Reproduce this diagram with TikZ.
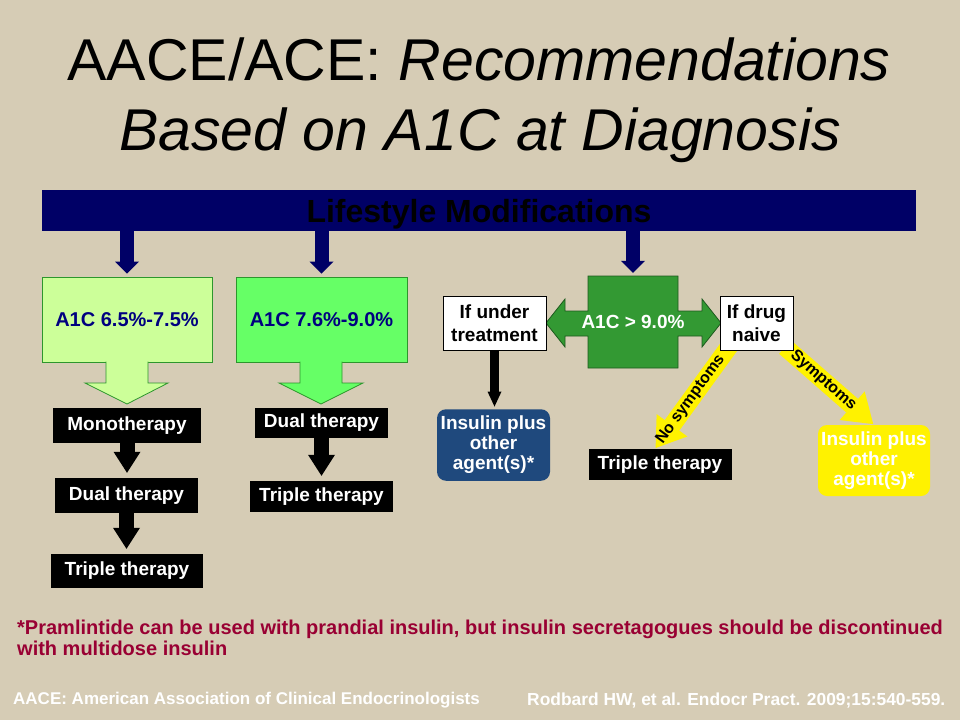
\documentclass[tikz,border=0pt]{standalone}
\usepackage{fontspec}
\setmainfont{Liberation Sans}
\usepackage{tikz}
\usetikzlibrary{calc}
\usetikzlibrary{arrows.meta}
\usetikzlibrary{backgrounds}
\definecolor{parchment}{RGB}{214, 204, 181}
\definecolor{navybar}{RGB}{0, 0, 102}
\definecolor{navytext}{RGB}{0, 0, 128}
\definecolor{palegreen}{RGB}{204, 255, 153}
\definecolor{brightgreen}{RGB}{102, 255, 102}
\definecolor{boxgreen}{RGB}{51, 153, 51}
\definecolor{edgegreen}{RGB}{45, 150, 45}
\definecolor{darkedge}{RGB}{30, 90, 30}
\definecolor{insulinblue}{RGB}{31, 73, 125}
\definecolor{crimson}{RGB}{153, 0, 51}
\newcommand{\sized}[2]{\fontsize{#1}{#2}\selectfont}

\begin{document}
\begin{tikzpicture}[x=1pt, y=-1pt,
    therapybox/.style  = {fill=black, text=white, font=\bfseries\sized{19}{22}, inner sep=0pt, minimum height=35pt},
    ifbox/.style       = {fill=white, draw=black, line width=0.8pt, text=black, font=\bfseries\sized{19}{23.3}, align=center, inner sep=0pt, minimum height=54.5pt},
    insulinbox/.style  = {rounded corners=9pt, text=white, font=\bfseries\sized{19}{20}, align=center, inner sep=0pt, minimum width=113pt, minimum height=71.5pt},
    a1cbox/.style      = {draw=edgegreen, line width=0.8pt, text=navytext, font=\bfseries\sized{20}{24}, inner sep=0pt, minimum width=170pt, minimum height=85pt},
    lifearrow/.style   = {navybar, line width=14pt, -{Triangle[width=24pt, length=12pt, line width=0pt]}, shorten >=3pt},
    steparrow/.style   = {black, line width=15pt, -{Triangle[width=27pt, length=21pt, line width=0pt]}, shorten >=5pt},
    treatarrow/.style  = {black, line width=9pt, -{Triangle[width=14pt, length=15pt, line width=0pt]}, shorten >=2.5pt},
    symptomband/.style = {yellow, line width=18pt, -{Triangle[width=38pt, length=28pt, line width=0pt]}, shorten >=1pt},
    symptomtext/.style = {sloped, text=black, font=\bfseries\sized{16}{17}, inner sep=0pt},
    footline/.style    = {anchor=base west, inner sep=0pt}]
            \begin{scope}[on background layer]
                \fill[parchment] (0,0) rectangle (960,720);
            \end{scope}
            \node[anchor=base, font=\sized{59}{70}]          (title1) at (479,80)  {AACE/ACE: \textit{Recommendations}};
            \node[anchor=base, font=\itshape\sized{59}{70}]  (title2) at (480,150) {Based on A1C at Diagnosis};
            \node[fill=navybar, text=black, font=\bfseries\sized{32}{32}, inner sep=0pt, minimum width=874pt, minimum height=41pt,
                  text height=23pt, text depth=0pt]          (life)   at (479,210.5) {Lifestyle Modifications};
            \node[a1cbox, fill=palegreen]                    (low)    at (127,319.5) {A1C 6.5\%-7.5\%};
            \filldraw[fill=palegreen, draw=edgegreen, line width=0.8pt]   (106,361.5) -- (106,383) -- (85,383) -- (127,404) -- (168,383) -- (148,383) -- (148,361.5);
            \node[a1cbox, fill=brightgreen, minimum width=171pt] (mid) at (321.5,319.5) {A1C 7.6\%-9.0\%};
            \filldraw[fill=brightgreen, draw=edgegreen, line width=0.8pt] (300,361.5) -- (300,383) -- (279,383) -- (321,404) -- (363,383) -- (342,383) -- (342,361.5);
            \filldraw[fill=boxgreen, draw=darkedge, line width=0.8pt] (588,276) -- (678,276) -- (678,311) -- (702,311) -- (702,299) -- (721,323) -- (702,347)
                 -- (702,336) -- (678,336) -- (678,368) -- (588,368) -- (588,336) -- (565,336) -- (565,347) -- (546,323) -- (565,299) -- (565,311) -- (588,311) -- cycle;
            \node[text=white, font=\bfseries\sized{19}{22}, inner sep=0pt, minimum width=90pt, minimum height=92pt] (high) at (633,322) {A1C > 9.0\%};
            \node[ifbox, minimum width=103pt]                (under)  at (494.5,323.3) {If under\\treatment};
            \node[ifbox, minimum width=73pt]                 (naive)  at (756.5,323.3) {If drug\\naive};
            \node[insulinbox, fill=insulinblue]              (ins1)   at (493.5,445)   {Insulin plus\\other\\agent(s)*};
            \node[insulinbox, fill=yellow, minimum width=112pt, minimum height=71pt] (ins2) at (874,460.5) {Insulin plus\\other\\agent(s)*};
            \node[therapybox, minimum width=148pt]           (mono)    at (127,425.5)  {Monotherapy};
            \node[therapybox, minimum width=143pt]           (dualA)   at (126.5,495.5) {Dual therapy};
            \node[therapybox, minimum width=152pt, minimum height=34pt] (tripleA) at (127,571)   {Triple therapy};
            \node[therapybox, minimum width=133pt, minimum height=30pt] (dualB)   at (321.5,423) {Dual therapy};
            \node[therapybox, minimum width=143pt, minimum height=31pt] (tripleB) at (321.5,496.5) {Triple therapy};
            \node[therapybox, minimum width=143pt, minimum height=31pt] (tripleC) at (660,464.5) {Triple therapy};
            \draw[lifearrow]  (life.south -| low.north)  -- (low.north);
            \draw[lifearrow]  (life.south -| mid.north)  -- (mid.north);
            \draw[lifearrow]  (life.south -| high.north) -- (high.north);
            \draw[steparrow]  (mono.south)  -- (mono.south |- dualA.north);
            \draw[steparrow]  (dualA.south) -- (dualA.south |- tripleA.north);
            \draw[steparrow]  (dualB.south) -- (dualB.south |- tripleB.north);
            \draw[treatarrow] (under.south) -- (under.south |- ins1.north);
            \coordinate (nostart)  at (731,344);
            \coordinate (yesstart) at (785,347);
            \begin{scope}[on background layer]
                \draw[symptomband] (nostart)  -- ($(tripleC.north)+(-5,0)$);
                \draw[symptomband] (yesstart) -- (ins2.north);
            \end{scope}
            \path (nostart)  -- ($(tripleC.north)+(-5,0)$) node[symptomtext, pos=0.53] (nolabel)  {No symptoms};
            \path (yesstart) -- (ins2.north)               node[symptomtext, pos=0.43] (yeslabel) {Symptoms};
            \node[footline, text=crimson, font=\bfseries\sized{20}{21.5}] (note1) at (17,634)   {*Pramlintide can be used with prandial insulin, but insulin secretagogues should be discontinued};
            \node[footline, text=crimson, font=\bfseries\sized{20}{21.5}] (note2) at (17,655.5) {with multidose insulin};
            \node[footline, text=white, font=\bfseries\sized{17}{17}]     (org)   at (13,704)   {AACE: American Association of Clinical Endocrinologists};
            \node[footline, text=white, font=\bfseries\sized{17.4}{17}]   (cite)  at (527,705)  {Rodbard HW, et al. Endocr Pract. 2009;15:540-559.};
\end{tikzpicture}
\end{document}
